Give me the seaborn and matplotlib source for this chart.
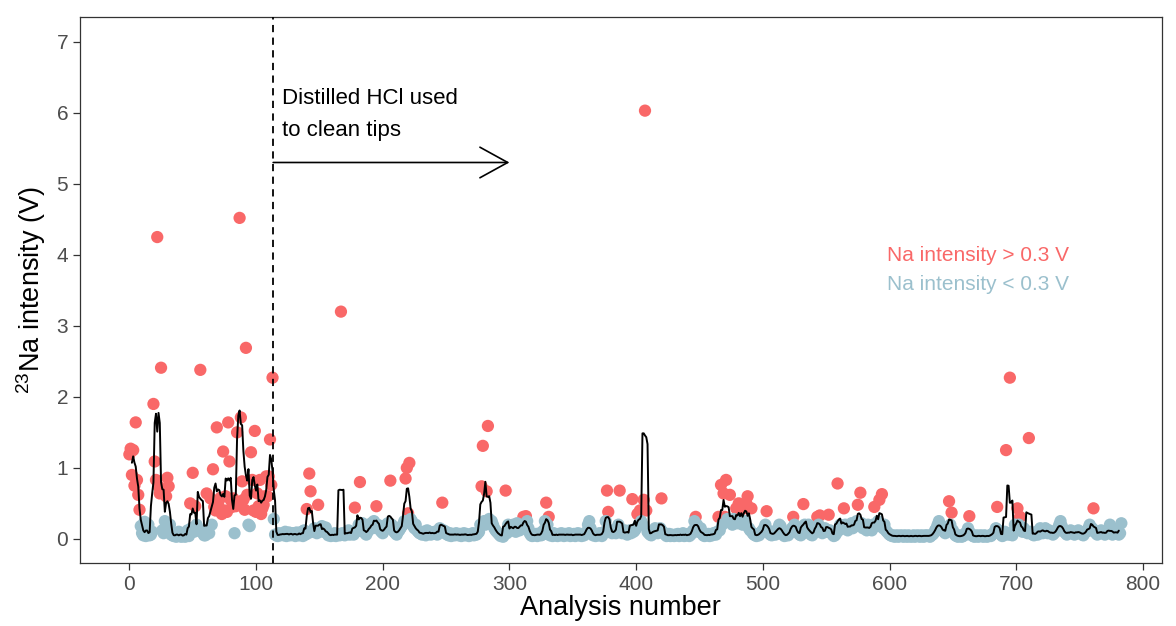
import numpy as np
import pandas as pd
import matplotlib.pyplot as plt
import seaborn as sns

# Na intensity per analysis, in hundredths of a volt
na_before_hcl = [
    119, 127, 90, 125, 75, 164, 83, 62, 41, 18,
    8, 5, 24, 4, 6, 20, 5, 6, 10, 190,
    109, 83, 425, 74, 64, 241, 12, 8, 25, 60,
    86, 74, 20, 6, 5, 4, 8, 3, 5, 10,
    4, 3, 8, 5, 3, 6, 12, 4, 50, 15,
    93, 10, 46, 20, 15, 12, 238, 10, 8, 5,
    5, 64, 12, 8, 57, 20, 98, 45, 40, 157,
    50, 43, 58, 35, 123, 40, 60, 38, 164, 109,
    55, 45, 57, 8, 46, 150, 50, 452, 171, 81,
    55, 41, 269, 62, 20, 18, 122, 83, 40, 152,
    38, 64, 46, 83, 35, 43, 48, 60, 88, 60,
    88, 140, 76, 227,
]
na_after_hcl = [
    28, 6, 5, 4, 8, 5,
    6, 8, 5, 10, 4, 7, 9, 5, 6, 8,
    7, 4, 9, 6, 5, 8, 10, 4, 12, 6,
    42, 8, 92, 67, 10, 12, 15, 10, 8, 48,
    12, 15, 18, 10, 14, 16, 8, 5, 6, 4,
    6, 5, 8, 4, 7, 6, 5, 320, 8, 6,
    5, 7, 10, 12, 6, 8, 9, 6, 44, 10,
    12, 20, 80, 15, 22, 10, 8, 6, 10, 14,
    18, 22, 15, 25, 20, 46, 20, 18, 12, 10,
    8, 12, 15, 20, 22, 18, 82, 20, 15, 10,
    8, 6, 10, 12, 15, 18, 20, 25, 85, 100,
    36, 107, 28, 25, 18, 15, 20, 12, 10, 8,
    8, 6, 10, 7, 5, 12, 8, 10, 6, 9,
    7, 10, 8, 6, 12, 15, 10, 51, 12, 8,
    10, 6, 5, 8, 4, 7, 6, 5, 8, 6,
    5, 7, 4, 6, 8, 5, 7, 6, 4, 5,
    6, 8, 5, 7, 6, 8, 10, 20, 74, 131,
    25, 20, 67, 159, 28, 22, 25, 20, 15, 12,
    10, 8, 6, 4, 5, 3, 6, 68, 8, 20,
    15, 12, 18, 20, 15, 10, 22, 18, 12, 14,
    20, 31, 18, 32, 25, 15, 8, 5, 4, 6,
    5, 7, 4, 6, 8, 5, 6, 12, 25, 51,
    20, 31, 5, 6, 4, 8, 5, 6, 4, 7,
    5, 8, 6, 4, 7, 5, 6, 8, 4, 6,
    5, 7, 4, 6, 8, 5, 7, 4, 6, 5,
    8, 10, 20, 25, 15, 8, 5, 6, 4, 6,
    5, 8, 6, 4, 7, 10, 25, 68, 38, 12,
    10, 8, 12, 10, 8, 15, 20, 68, 10, 8,
    10, 12, 8, 6, 10, 12, 8, 56, 10, 12,
    15, 35, 20, 40, 25, 20, 55, 603, 40, 10,
    8, 6, 5, 10, 12, 15, 10, 8, 12, 15,
    57, 10, 8, 6, 4, 5, 7, 4, 6, 5,
    4, 6, 5, 7, 4, 6, 5, 8, 4, 6,
    5, 7, 4, 6, 8, 12, 25, 31, 20, 10,
    12, 15, 8, 5, 4, 6, 5, 7, 4, 6,
    5, 8, 8, 6, 10, 31, 12, 76, 20, 64,
    31, 83, 28, 25, 62, 25, 20, 28, 25, 43,
    22, 50, 25, 43, 20, 43, 25, 50, 60, 15,
    12, 43, 8, 6, 5, 4, 6, 5, 8, 10,
    12, 15, 20, 39, 12, 8, 6, 5, 10, 8,
    6, 10, 15, 20, 18, 12, 6, 4, 5, 6,
    5, 8, 12, 15, 31, 20, 15, 10, 8, 6,
    5, 12, 49, 20, 15, 18, 20, 8, 6, 5,
    8, 12, 15, 31, 20, 33, 10, 8, 12, 15,
    10, 12, 34, 12, 10, 6, 4, 5, 8, 78,
    12, 20, 18, 15, 43, 20, 15, 12, 18, 20,
    22, 15, 20, 18, 25, 48, 20, 65, 22, 15,
    18, 15, 12, 20, 15, 18, 12, 20, 45, 20,
    18, 25, 55, 20, 63, 15, 20, 12, 10, 8,
    6, 5, 4, 5, 3, 4, 5, 3, 4, 5,
    4, 3, 5, 4, 3, 5, 4, 3, 4, 5,
    3, 4, 5, 4, 3, 5, 4, 3, 5, 4,
    5, 4, 3, 5, 6, 8, 12, 15, 20, 25,
    20, 15, 12, 10, 8, 15, 12, 53, 20, 37,
    12, 8, 5, 4, 3, 5, 4, 3, 4, 5,
    8, 10, 15, 32, 8, 5, 4, 3, 4, 5,
    3, 4, 5, 4, 3, 5, 4, 3, 4, 5,
    4, 6, 8, 10, 15, 45, 12, 8, 6, 4,
    5, 10, 125, 8, 6, 227, 8, 5, 10, 20,
    15, 43, 20, 31, 12, 10, 15, 12, 10, 8,
    142, 10, 8, 6, 5, 8, 10, 6, 12, 15,
    10, 8, 12, 15, 10, 8, 12, 10, 8, 6,
    8, 10, 12, 15, 20, 25, 18, 12, 10, 8,
    6, 8, 10, 12, 8, 10, 6, 8, 10, 12,
    10, 8, 6, 5, 8, 10, 12, 15, 20, 12,
    15, 43, 10, 8, 6, 10, 8, 12, 10, 8,
    6, 8, 10, 12, 20, 8, 6, 10, 8, 12,
    10, 6, 8, 22,
]

threshold = 0.3
hcl_start = 113.5
red = '#F96868'
blue = '#9BC0CD'

na = np.array(na_before_hcl + na_after_hcl) / 100
df = pd.DataFrame({'analysis': np.arange(len(na)), 'na': na})
df['group'] = np.where(df['na'] > threshold, 'high', 'low')
df['smooth'] = df['na'].rolling(5, center=True).mean()

sns.set_style("ticks")
plt.rcParams['font.family'] = ['Liberation Sans', 'DejaVu Sans']
plt.rcParams['mathtext.default'] = 'regular'

fig, ax = plt.subplots(figsize=(11.76, 6.26), dpi=100)
fig.subplots_adjust(left=0.068, right=0.988, bottom=0.1006, top=0.973)

sns.scatterplot(data=df[df['group'] == 'high'], x='analysis', y='na', color=red,
                s=78, edgecolor='none', linewidth=0, ax=ax, zorder=2)
sns.scatterplot(data=df[df['group'] == 'low'], x='analysis', y='na', color=blue,
                s=78, edgecolor='none', linewidth=0, ax=ax, zorder=3)
sns.lineplot(data=df, x='analysis', y='smooth', color='black', lw=1.4, ax=ax, zorder=4)

# cleaning change marker
ax.axvline(hcl_start, color='black', ls=(0, (4, 3)), lw=1.3, zorder=5)
ax.annotate('', xy=(300, 5.3), xytext=(hcl_start, 5.3),
            arrowprops=dict(arrowstyle='->,head_length=2.0,head_width=1.1', lw=1.2,
                            color='black', shrinkA=0, shrinkB=0, mutation_scale=10))
ax.text(120.5, 6.2, 'Distilled HCl used', fontsize=16, color='black', va='center', ha='left')
ax.text(120.5, 5.75, 'to clean tips', fontsize=16, color='black', va='center', ha='left')

# manual legend
ax.text(598, 3.99, 'Na intensity > 0.3 V', color=red, fontsize=15, va='center', ha='left')
ax.text(598, 3.58, 'Na intensity < 0.3 V', color=blue, fontsize=15, va='center', ha='left')

ax.set_xlim(-39, 815)
ax.set_ylim(-0.34, 7.35)
ax.set_xticks(range(0, 801, 100))
ax.set_yticks(range(0, 8))
ax.set_xlabel('Analysis number', fontsize=19.5, color='black', labelpad=1)
ax.set_ylabel(r'$^{23}$Na intensity (V)', fontsize=19.5, color='black', labelpad=6)
ax.tick_params(direction='out', length=5, width=0.9, color='#333333',
               labelsize=15, labelcolor='#4D4D4D')
for sp in ax.spines.values():
    sp.set_visible(True)
    sp.set_color('#333333')
    sp.set_linewidth(0.9)

plt.savefig('out.png', dpi=100)
